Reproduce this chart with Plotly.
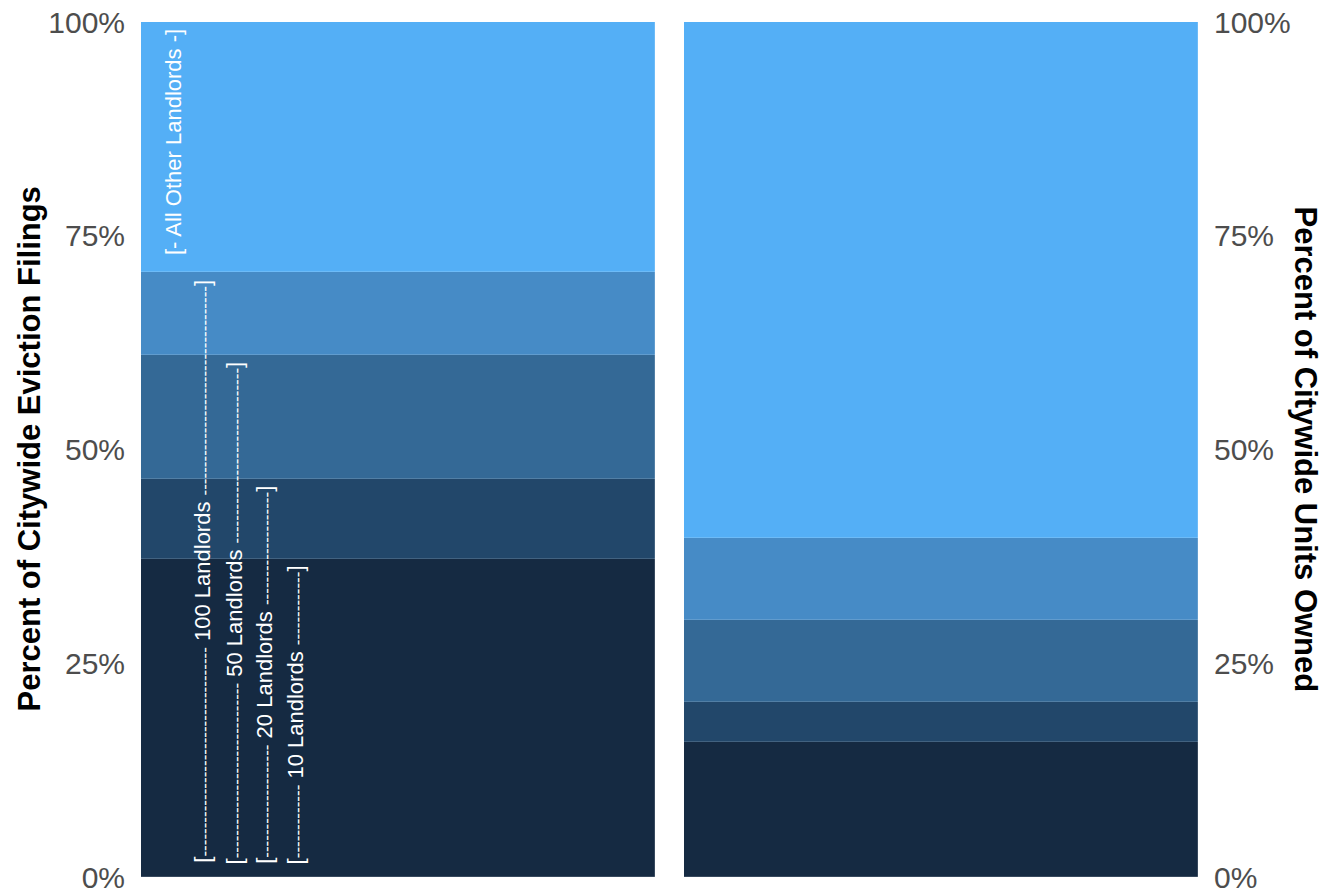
import plotly.graph_objects as go

# ---- data (percent of citywide total, stacked bottom -> top) ----
groups = ["Top 10 Landlords", "Landlords 11-20", "Landlords 21-50", "Landlords 51-100", "All Other Landlords"]
eviction_share = [37.2, 9.4, 14.4, 9.8, 29.2]
units_share = [15.8, 4.7, 9.6, 9.6, 60.3]
colors = ["#152A42", "#22476A", "#346996", "#468BC6", "#54AFF6"]
panel_titles = ["Percent of Citywide Eviction Filings", "Percent of Citywide Units Owned"]
tick_vals = [0, 25, 50, 75, 100]
tick_text = ["0%", "25%", "50%", "75%", "100%"]
bracket_labels = ["10 Landlords", "20 Landlords", "50 Landlords", "100 Landlords"]
bracket_counts = [1, 2, 3, 4]   # how many groups each bracket covers

W, H = 1331, 894
ML, MR, MT, MB = 141, 133, 22, 17
plot_w = W - ML - MR
gap_px = 29
panel_w = (plot_w - gap_px) / 2
px_per_pct = (H - MT - MB) / 100.0

FONT = "Liberation Sans, Arial, sans-serif"

fig = go.Figure()
for i, g in enumerate(groups):
    fig.add_trace(go.Bar(x=[0], y=[eviction_share[i]], width=[1], name=g,
                         marker=dict(color=colors[i], line=dict(width=0.6, color="rgba(255,255,255,0.25)")),
                         xaxis="x", yaxis="y", showlegend=False, hoverinfo="skip"))
    fig.add_trace(go.Bar(x=[0], y=[units_share[i]], width=[1], name=g,
                         marker=dict(color=colors[i], line=dict(width=0.6, color="rgba(255,255,255,0.25)")),
                         xaxis="x2", yaxis="y2", showlegend=False, hoverinfo="skip"))

# ---- bracket annotations (text with dashes) ----
label_fs = 22
dash_fs = 17
cum = []
s = 0
for v in eviction_share:
    s += v
    cum.append(s)

bottom_pct = 1.75
annotations = []
x_positions = [-0.200, -0.261, -0.319, -0.381]
widths = {"0": .556, "1": .556, "2": .556, "5": .556, " ": .278, "L": .556, "a": .556, "n": .556,
          "d": .556, "l": .222, "o": .556, "r": .333, "s": .5}
for lab, cnt, xp in zip(bracket_labels, bracket_counts, x_positions):
    top_pct = cum[cnt - 1] - 1.1
    span_px = (top_pct - bottom_pct) * px_per_pct
    lab_px = sum(widths.get(c, .556) for c in " " + lab + " ") * label_fs
    br_px = 2 * 0.278 * label_fs
    n = max(1, int(round((span_px - lab_px - br_px) / (0.333 * dash_fs) / 2)))
    dashes = "<span style='font-size:%dpx'>%s</span>" % (dash_fs, "-" * n)
    txt = "[" + dashes + " " + lab + " " + dashes + "]"
    annotations.append(dict(x=xp, y=(top_pct + bottom_pct) / 2, xref="x", yref="y", text=txt,
                            textangle=-90, showarrow=False, xanchor="center", yanchor="middle",
                            font=dict(family=FONT, size=label_fs, color="white")))

annotations.append(dict(x=-0.437, y=(cum[3] + 100) / 2 + 0.6, xref="x", yref="y",
                        text="[- All Other Landlords -]", textangle=-90, showarrow=False,
                        xanchor="center", yanchor="middle",
                        font=dict(family=FONT, size=label_fs, color="white")))

# ---- axis titles ----
annotations.append(dict(x=(29 - ML) / plot_w, y=0.5, xref="paper", yref="paper", text="<b>" + panel_titles[0] + "</b>",
                        textangle=-90, showarrow=False, xanchor="center", yanchor="middle",
                        font=dict(family=FONT, size=31, color="black")))
annotations.append(dict(x=(1305 - ML) / plot_w, y=0.5, xref="paper", yref="paper", text="<b>" + panel_titles[1] + "</b>",
                        textangle=90, showarrow=False, xanchor="center", yanchor="middle",
                        font=dict(family=FONT, size=31, color="black")))

d1 = panel_w / plot_w
yax_common = dict(range=[0, 100], tickvals=tick_vals, ticktext=tick_text, showgrid=False, zeroline=False,
                  showline=False, ticks="outside", ticklen=9, tickcolor="rgba(0,0,0,0)", automargin=False,
                  ticklabeloverflow="allow",
                  tickfont=dict(family=FONT, size=30, color="#4D4D4D"), fixedrange=True)
xax_common = dict(range=[-0.5, 0.5], showgrid=False, zeroline=False, showline=False, automargin=False,
                  showticklabels=False, ticks="", fixedrange=True)

fig.update_layout(
    width=W, height=H,
    margin=dict(l=ML, r=MR, t=MT, b=MB, autoexpand=False),
    paper_bgcolor="white", plot_bgcolor="white",
    barmode="stack", bargap=0,
    xaxis=dict(domain=[0, d1], anchor="y", **xax_common),
    xaxis2=dict(domain=[1 - d1, 1], anchor="y2", **xax_common),
    yaxis=dict(anchor="x", side="left", **yax_common),
    yaxis2=dict(anchor="x2", side="right", **yax_common),
    annotations=annotations,
    showlegend=False,
)

fig.write_html("out.html", config={"displayModeBar": False},
               post_script="document.body.style.margin='0';")
